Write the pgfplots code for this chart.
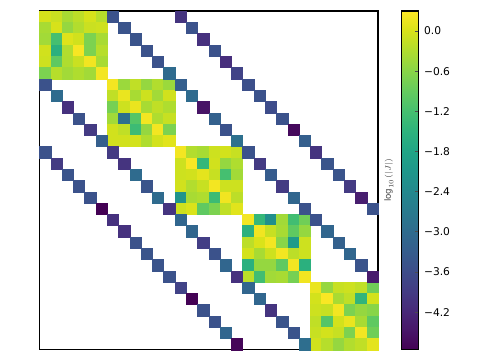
\documentclass[border=0pt]{standalone}
\usepackage{pgfplots}
\pgfplotsset{compat=1.18}
\usepackage{fontspec}
\setmainfont{DejaVu Sans}
\begin{document}
\begin{tikzpicture}
\begin{axis}[
  at={(0,0)}, anchor=south west,
  scale only axis, width=254pt, height=254pt,
  xmin=-0.5, xmax=29.5, ymin=-0.5, ymax=29.5,
  y dir=reverse,
  xtick=\empty, ytick=\empty,
  axis line style={black, line width=0.8pt},
  colormap/viridis,
  point meta min=-4.76, point meta max=0.30,
  colorbar,
  colorbar style={
    at={(parent axis.north east)}, anchor=north west, xshift=9.3pt,
    width=12.2pt,
    ytick={-4.2,-3.6,-3.0,-2.4,-1.8,-1.2,-0.6,0.0},
    yticklabels={−4.2,−3.6,−3.0,−2.4,−1.8,−1.2,−0.6,0.0},
    ytick pos=right, yticklabel pos=right,
    ytick align=inside, major tick length=2.2pt,
    tick style={black!70, line width=0.6pt},
    yticklabel style={font=\fontsize{8}{9.6}\selectfont, xshift=1pt},
    axis line style={black, line width=0.8pt},
    ylabel={$\log_{10}(|J|)$},
    every axis y label/.style={at={(axis description cs:-0.8,0.5)}, rotate=90, anchor=center, font=\fontsize{6.5}{7.5}\selectfont, text=black!75},
  },
]
\addplot[scatter, only marks, mark=square*, mark size=4.2333pt,
  point meta=explicit,
  scatter/use mapped color={draw=mapped color, fill=mapped color},
  mark options={line width=0.15pt}]
  table[x=c, y=r, meta=v] {
c r v
0 0 -0.02
1 0 -0.10
2 0 -0.35
3 0 -0.20
4 0 -0.02
5 0 -0.25
0 1 -0.35
1 1 0.00
2 1 -0.50
3 1 -0.28
4 1 -0.10
5 1 -0.07
0 2 -0.40
1 2 -1.20
2 2 0.05
3 2 -0.05
4 2 -0.70
5 2 -0.35
0 3 -0.05
1 3 -1.55
2 3 -0.28
3 3 0.25
4 3 -0.70
5 3 -0.25
0 4 -0.08
1 4 -0.95
2 4 -0.30
3 4 -0.10
4 4 0.20
5 4 -0.35
0 5 -0.70
1 5 -0.25
2 5 -0.40
3 5 -0.30
4 5 -0.40
5 5 0.22
6 6 0.22
7 6 -0.45
8 6 -0.17
9 6 -0.50
10 6 -0.28
11 6 -0.45
6 7 -0.17
7 7 0.15
8 7 -0.35
9 7 -0.08
10 7 -0.40
11 7 -0.05
6 8 -0.75
7 8 -0.08
8 8 0.15
9 8 -0.35
10 8 -0.17
11 8 -0.30
6 9 -0.40
7 9 -2.90
8 9 -1.05
9 9 0.22
10 9 -0.30
11 9 -0.12
6 10 -0.05
7 10 -0.17
8 10 -1.30
9 10 -0.50
10 10 0.22
11 10 -0.70
6 11 -0.05
7 11 -0.05
8 11 -0.03
9 11 -0.30
10 11 -0.03
11 11 0.08
12 12 0.22
13 12 -0.28
14 12 -0.35
15 12 -0.08
16 12 -0.03
17 12 -0.12
12 13 -0.08
13 13 0.27
14 13 -1.40
15 13 -0.05
16 13 -0.50
17 13 -0.30
12 14 -0.08
13 14 -0.05
14 14 0.10
15 14 -0.12
16 14 -1.20
17 14 -0.40
12 15 -0.05
13 15 -0.28
14 15 -0.12
15 15 0.22
16 15 -0.08
17 15 -0.08
12 16 -2.15
13 16 -0.35
14 16 -0.30
15 16 -1.30
16 16 0.20
17 16 -0.20
12 17 -0.08
13 17 0.02
14 17 -0.95
15 17 -0.70
16 17 -0.17
17 17 0.08
18 18 0.22
19 18 -1.40
20 18 -2.25
21 18 -0.40
22 18 -1.25
23 18 -0.80
18 19 -1.55
19 19 0.20
20 19 -0.12
21 19 -0.35
22 19 -0.95
23 19 -0.50
18 20 -0.20
19 20 0.02
20 20 0.22
21 20 -0.60
22 20 -2.00
23 20 -0.08
18 21 -0.03
19 21 -0.35
20 21 -0.08
21 21 0.22
22 21 -0.20
23 21 -0.08
18 22 -1.55
19 22 -0.50
20 22 -0.50
21 22 -0.95
22 22 0.22
23 22 -1.55
18 23 -0.20
19 23 -1.25
20 23 -0.40
21 23 -0.35
22 23 -0.75
23 23 0.20
24 24 0.15
25 24 -0.50
26 24 -0.12
27 24 -0.08
28 24 -0.17
29 24 -0.80
24 25 -0.03
25 25 0.27
26 25 -0.35
27 25 -0.17
28 25 -1.45
29 25 -0.03
24 26 -0.08
25 26 -0.12
26 26 0.22
27 26 -0.70
28 26 -0.50
29 26 -0.60
24 27 -0.17
25 27 -1.05
26 27 -0.03
27 27 0.15
28 27 -0.35
29 27 -0.95
24 28 -0.12
25 28 -0.03
26 28 -0.12
27 28 -0.70
28 28 0.22
29 28 -0.80
24 29 -0.05
25 29 -0.25
26 29 -0.50
27 29 -0.28
28 29 -0.17
29 29 0.10
6 0 -3.50
7 1 -3.45
8 2 -3.45
9 3 -3.50
10 4 -3.50
11 5 -3.00
12 6 -3.25
13 7 -3.00
14 8 -4.50
15 9 -3.20
16 10 -3.50
17 11 -2.90
18 12 -3.50
19 13 -3.90
20 14 -3.30
21 15 -3.90
22 16 -3.10
23 17 -3.50
24 18 -3.50
25 19 -3.10
26 20 -3.20
27 21 -3.10
28 22 -3.45
29 23 -4.40
12 0 -4.00
13 1 -3.50
14 2 -4.05
15 3 -3.50
16 4 -4.10
17 5 -3.75
18 6 -3.55
19 7 -3.50
20 8 -3.60
21 9 -3.50
22 10 -4.65
23 11 -3.25
24 12 -4.00
25 13 -3.45
26 14 -3.45
27 15 -3.90
28 16 -4.35
29 17 -3.50
0 6 -3.50
1 7 -3.00
2 8 -4.05
3 9 -3.50
4 10 -3.90
5 11 -3.25
6 12 -3.90
7 13 -4.00
8 14 -3.00
9 15 -3.45
10 16 -3.00
11 17 -4.00
12 18 -3.10
13 19 -3.10
14 20 -3.85
15 21 -3.50
16 22 -3.10
17 23 -4.05
18 24 -3.10
19 25 -3.10
20 26 -4.00
21 27 -3.45
22 28 -3.45
23 29 -2.95
0 12 -3.50
1 13 -3.90
2 14 -3.45
3 15 -3.50
4 16 -3.50
5 17 -4.77
6 18 -4.05
7 19 -4.05
8 20 -3.50
9 21 -3.45
10 22 -3.45
11 23 -3.50
12 24 -3.75
13 25 -4.75
14 26 -3.50
15 27 -3.50
16 28 -3.10
17 29 -4.70
};
\end{axis}
\path[use as bounding box] (-29.5pt,-8pt) rectangle (330.5pt,262.25pt);
\end{tikzpicture}
\end{document}
